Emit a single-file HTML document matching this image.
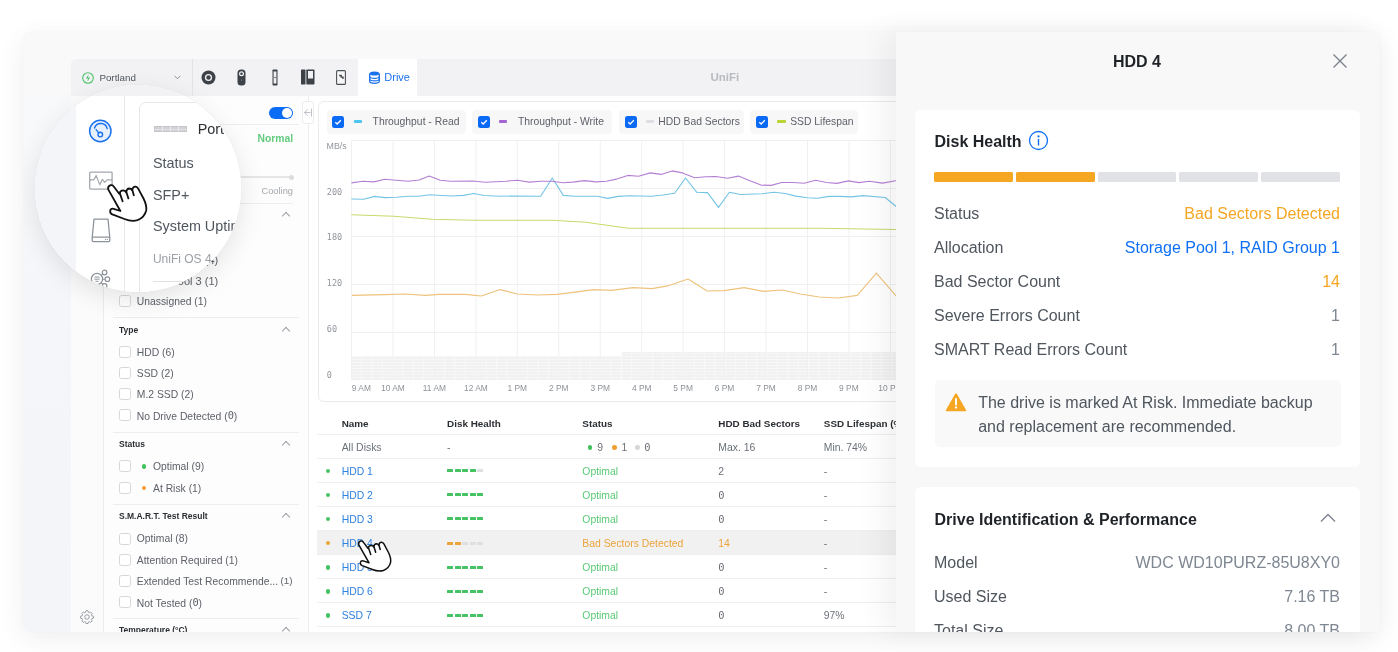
<!DOCTYPE html>
<html><head><meta charset="utf-8">
<style>
*{box-sizing:border-box;margin:0;padding:0}
html,body{width:1398px;height:652px;overflow:hidden;background:#fff}
body{position:relative;font-family:"Liberation Sans",Arial,sans-serif;color:#50565e}
.a{position:absolute}
.card{left:23px;top:32px;width:1357px;height:600px;background:#f9f9fa;border-radius:8px 2px 2px 8px;box-shadow:0 6px 28px rgba(0,0,0,.07),0 0 2px rgba(0,0,0,.03)}
.clipL{left:23px;top:32px;width:873px;height:600px;overflow:hidden;border-radius:8px 0 0 8px}
.in{position:absolute;left:-23px;top:-32px;width:1398px;height:652px}
.band{left:23px;top:96px;width:48px;height:536px;background:linear-gradient(#f8f9fa,#f5f6f9 40%,#f4f5f8)}
.hdr{left:71px;top:59px;width:840px;height:37px;background:#f2f2f4;border-radius:5px 0 0 0}
.app{left:71px;top:96px;width:840px;height:536px;background:#fff}
.nav{left:71px;top:96px;width:33px;height:536px;background:#fbfbfc;border-right:1px solid #ececee}
.filt{left:104px;top:96px;width:205px;height:536px;background:#fdfdfd;border-right:1px solid #eeeeef}
.txt{white-space:nowrap;line-height:1}
.cb{position:absolute;width:12px;height:12px;border:1px solid #d5d7da;border-radius:2.5px;background:#fff}
.fl{position:absolute;font-size:10.35px;color:#5d6168;white-space:nowrap;line-height:12px}
.fh{position:absolute;font-size:8.5px;font-weight:bold;color:#2b2f33;white-space:nowrap;line-height:10px}
.hl{position:absolute;height:1px;background:#ededee}
.chev{position:absolute;width:6px;height:6px;border-left:1.2px solid #9a9ea4;border-top:1.2px solid #9a9ea4;transform:rotate(45deg)}
.panel{left:896px;top:32px;width:483px;height:600px;background:#f8f8f8;box-shadow:-12px 0 28px rgba(0,0,0,.06);overflow:hidden}
.pin{position:absolute;left:-896px;top:-32px;width:1398px;height:652px}
.pc{position:absolute;background:#fff;border-radius:6px}
.row{position:absolute;left:934px;width:406px;height:20px;font-size:16px;line-height:20px;color:#50565e;white-space:nowrap}
.row .v{position:absolute;right:0;top:0}
.z{font-family:"DejaVu Sans Mono",monospace;font-size:1em;position:relative;top:-1px}
.tb{position:absolute;font-size:10.4px;line-height:12px;white-space:nowrap}
</style></head><body>
<div class="a card"></div>
<div class="a clipL"><div class="in">
  <div class="a band"></div>
  <div class="a app"></div>
  <div class="a nav"></div>
  <div class="a filt"></div>
  <div class="a" style="left:269.3px;top:106.5px;width:24px;height:12px;border-radius:6px;background:#0b6cf5"></div>
  <div class="a" style="left:282.3px;top:107.5px;width:10px;height:10px;border-radius:50%;background:#fff"></div>
  <div class="hl" style="left:113px;width:186px;top:124.0px"></div>
  <div class="txt a" style="left:200px;width:93px;text-align:right;top:134.4px;font-size:10.3px;font-weight:bold;color:#62cb7e">Normal</div>
  <div class="a" style="left:160px;top:176.3px;width:131px;height:1.6px;background:#e6e6e8;border-radius:1px"></div>
  <div class="a" style="left:288.5px;top:174.5px;width:5px;height:5px;border-radius:50%;background:#dcdcde"></div>
  <div class="txt a" style="left:200px;width:93px;text-align:right;top:187.3px;font-size:9.3px;color:#a3a7ac">Cooling</div>
  <div class="hl" style="left:113px;width:180px;top:203.0px"></div>
  <div class="fh" style="left:119px;top:209.8px">Storage Pool</div>
  <div class="chev" style="left:283px;top:213.0px"></div>
  <div class="cb" style="left:119px;top:232.3px"></div>
  <div class="fl" style="left:170.5px;top:232.5px;font-size:11px">Pool 1 (4)</div>
  <div class="cb" style="left:119px;top:253.3px"></div>
  <div class="fl" style="left:170.5px;top:253.5px;font-size:11px">Pool 2 (4)</div>
  <div class="cb" style="left:119px;top:274.3px"></div>
  <div class="fl" style="left:170.5px;top:274.5px;font-size:11px">Pool 3 (1)</div>
  <div class="cb" style="left:119px;top:295.3px"></div>
  <div class="fl" style="left:136.8px;top:295.8px">Unassigned (1)</div>
  <div class="hl" style="left:113px;width:186px;top:317.3px"></div>
  <div class="fh" style="left:119px;top:324.6px">Type</div>
  <div class="chev" style="left:283px;top:327.8px"></div>
  <div class="cb" style="left:119px;top:346.4px"></div>
  <div class="fl" style="left:136.8px;top:346.9px">HDD (6)</div>
  <div class="cb" style="left:119px;top:367.2px"></div>
  <div class="fl" style="left:136.8px;top:367.7px">SSD (2)</div>
  <div class="cb" style="left:119px;top:388.1px"></div>
  <div class="fl" style="left:136.8px;top:388.6px">M.2 SSD (2)</div>
  <div class="cb" style="left:119px;top:409.0px"></div>
  <div class="fl" style="left:136.8px;top:409.5px">No Drive Detected (<span class="z">0</span>)</div>
  <div class="hl" style="left:113px;width:186px;top:431.6px"></div>
  <div class="fh" style="left:119px;top:438.6px">Status</div>
  <div class="chev" style="left:283px;top:441.8px"></div>
  <div class="cb" style="left:119px;top:460.4px"></div>
  <div class="a" style="left:141.7px;top:464.1px;width:4.6px;height:4.6px;border-radius:50%;background:#3fc15c"></div>
  <div class="fl" style="left:153.0px;top:460.9px">Optimal (9)</div>
  <div class="cb" style="left:119px;top:482.0px"></div>
  <div class="a" style="left:141.7px;top:485.7px;width:4.6px;height:4.6px;border-radius:50%;background:#f0a030"></div>
  <div class="fl" style="left:153.0px;top:482.5px">At Risk (1)</div>
  <div class="hl" style="left:113px;width:186px;top:504.0px"></div>
  <div class="fh" style="left:119px;top:510.8px">S.M.A.R.T. Test Result</div>
  <div class="chev" style="left:283px;top:514.0px"></div>
  <div class="cb" style="left:119px;top:532.9px"></div>
  <div class="fl" style="left:136.8px;top:533.4px">Optimal (8)</div>
  <div class="cb" style="left:119px;top:554.0px"></div>
  <div class="fl" style="left:136.8px;top:554.5px">Attention Required (1)</div>
  <div class="cb" style="left:119px;top:575.0px"></div>
  <div class="fl" style="left:136.8px;top:575.5px">Extended Test Recommende...</div>
  <div class="fl" style="left:200px;width:92.6px;text-align:right;top:575px;font-size:9.8px">(1)</div>
  <div class="cb" style="left:119px;top:596.3px"></div>
  <div class="fl" style="left:136.8px;top:596.8px">Not Tested (<span class="z">0</span>)</div>
  <div class="hl" style="left:113px;width:186px;top:618.4px"></div>
  <div class="fh" style="left:119px;top:625.1px">Temperature (°C)</div>
  <div class="chev" style="left:283px;top:628.3px"></div>
  <div class="a" style="left:302.2px;top:100.8px;width:12px;height:23px;border:1px solid #ececee;border-radius:3px;background:#fff"></div>
  <svg class="a" style="left:303.4px;top:107.6px" width="10" height="9" viewBox="0 0 10 9"><path d="M4.6 1.3L1.5 4.5L4.6 7.7M1.5 4.5H7.6M8.5 0.5V8.5" stroke="#aeb2b7" stroke-width="0.8" fill="none"/></svg>
  <svg class="a" style="left:78.5px;top:608.5px" width="16" height="16" viewBox="0 0 24 24"><path d="M12 2.5l1.6 .3.5 2.2 1.5.7 1.9-1.2 2.3 2.3-1.2 1.9.7 1.5 2.2.5v3.2l-2.2.5-.7 1.5 1.2 1.9-2.3 2.3-1.9-1.2-1.5.7-.5 2.2h-3.2l-.5-2.2-1.5-.7-1.9 1.2-2.3-2.3 1.2-1.9-.7-1.5-2.2-.5v-3.2l2.2-.5.7-1.5-1.2-1.9 2.3-2.3 1.9 1.2 1.5-.7.5-2.2z" fill="none" stroke="#8a8f96" stroke-width="1.3" stroke-linejoin="round"/><circle cx="12" cy="12" r="3.4" fill="none" stroke="#8a8f96" stroke-width="1.3"/></svg>
<svg class="a" style="left:0;top:0" width="1398" height="652" viewBox="0 0 1398 652" font-family="Liberation Sans, Arial, sans-serif">
<defs><pattern id="bp" x="351.5" y="0" width="10.4" height="3" patternUnits="userSpaceOnUse"><rect x="0" y="0" width="9.3" height="2.3" fill="#f1f1f2"/><rect x="0" y="2.3" width="9.3" height="0.7" fill="#f7f7f8"/></pattern></defs>
<rect x="318.5" y="101.5" width="640" height="300" rx="5.5" fill="#fff" stroke="#ebebed"/>
<rect x="351.5" y="356" width="270" height="24" fill="#f8f8f9"/><rect x="351.5" y="356" width="270" height="24" fill="url(#bp)"/>
<rect x="621.5" y="352" width="290" height="28" fill="#f8f8f9"/><rect x="621.5" y="352" width="290" height="28" fill="url(#bp)"/>
<line x1="351.5" x2="910" y1="140.5" y2="140.5" stroke="#f0f0f1"/>
<line x1="351.5" x2="910" y1="188.5" y2="188.5" stroke="#f0f0f1"/>
<line x1="351.5" x2="910" y1="236.5" y2="236.5" stroke="#f0f0f1"/>
<line x1="351.5" x2="910" y1="284.5" y2="284.5" stroke="#f0f0f1"/>
<line x1="351.5" x2="910" y1="332.5" y2="332.5" stroke="#f0f0f1"/>
<line x1="351.5" x2="351.5" y1="140" y2="380" stroke="#f0f0f1"/>
<line x1="392.9" x2="392.9" y1="140" y2="380" stroke="#f0f0f1"/>
<line x1="434.4" x2="434.4" y1="140" y2="380" stroke="#f0f0f1"/>
<line x1="475.9" x2="475.9" y1="140" y2="380" stroke="#f0f0f1"/>
<line x1="517.3" x2="517.3" y1="140" y2="380" stroke="#f0f0f1"/>
<line x1="558.8" x2="558.8" y1="140" y2="380" stroke="#f0f0f1"/>
<line x1="600.2" x2="600.2" y1="140" y2="380" stroke="#f0f0f1"/>
<line x1="641.7" x2="641.7" y1="140" y2="380" stroke="#f0f0f1"/>
<line x1="683.1" x2="683.1" y1="140" y2="380" stroke="#f0f0f1"/>
<line x1="724.5" x2="724.5" y1="140" y2="380" stroke="#f0f0f1"/>
<line x1="766.0" x2="766.0" y1="140" y2="380" stroke="#f0f0f1"/>
<line x1="807.5" x2="807.5" y1="140" y2="380" stroke="#f0f0f1"/>
<line x1="848.9" x2="848.9" y1="140" y2="380" stroke="#f0f0f1"/>
<line x1="890.4" x2="890.4" y1="140" y2="380" stroke="#f0f0f1"/>
<polyline fill="none" stroke="#cbd86c" stroke-width="1.1" stroke-linejoin="round" points="351.4,214.7 393.9,216.3 432.5,219.2 473.8,220.3 552.3,220.3 585.8,222.2 605.1,225.0 628.3,228.2 820.0,228.2 895.6,229.5 905.0,229.6"/>
<polyline fill="none" stroke="#eec27c" stroke-width="1.1" stroke-linejoin="round" points="352.0,295.4 385.0,294.6 405.1,294.0 425.1,295.4 439.1,294.4 465.2,294.4 481.2,296.0 500.2,289.6 517.2,294.0 537.3,295.0 557.3,294.4 573.3,292.4 593.3,289.6 611.4,290.4 633.0,287.6 652.1,288.6 669.1,285.6 688.1,279.0 707.1,291.0 724.2,290.6 744.2,287.6 763.2,291.4 782.2,290.0 800.3,294.0 819.3,297.0 838.3,298.0 857.3,295.4 876.4,273.2 895.6,295.5 905.0,304.0"/>
<polyline fill="none" stroke="#74c4e4" stroke-width="1.1" stroke-linejoin="round" points="351.4,199.0 363.7,199.3 374.6,196.4 384.9,197.6 396.5,197.3 408.1,196.3 418.4,196.3 430.0,194.8 441.6,195.5 451.9,196.0 463.4,195.4 473.8,193.5 484.0,195.5 499.5,196.2 515.0,196.0 540.7,196.3 552.3,178.0 563.3,195.4 574.2,196.3 597.4,196.3 607.7,198.4 618.0,196.4 629.6,195.7 651.5,196.3 663.0,195.0 674.6,193.2 685.6,178.0 696.6,192.2 707.5,192.6 718.5,207.4 729.4,192.2 740.4,194.5 762.2,193.7 773.8,192.2 785.4,193.5 795.7,196.1 807.3,197.7 817.6,198.2 829.2,196.4 839.5,196.4 851.3,196.9 863.0,195.6 885.2,197.5 895.6,206.0 905.0,214.0"/>
<polyline fill="none" stroke="#b47fd3" stroke-width="1.1" stroke-linejoin="round" points="351.4,182.9 363.0,181.2 374.0,181.9 384.9,179.3 396.5,180.3 408.1,181.2 419.0,180.0 429.3,176.1 440.3,180.2 450.6,181.2 472.5,181.0 485.3,182.3 506.0,181.2 517.5,180.2 529.2,182.1 540.7,181.2 552.3,181.2 562.6,182.8 572.9,182.1 584.5,180.6 596.1,181.9 606.4,181.2 616.7,179.1 627.7,175.4 638.6,176.2 650.2,172.9 661.1,174.4 672.1,170.9 682.4,172.9 694.7,177.8 705.6,176.7 715.9,176.5 727.5,178.3 738.4,176.1 749.4,180.6 761.0,185.1 771.3,185.4 781.6,182.5 793.2,182.5 804.1,183.2 815.7,180.2 826.6,182.5 836.9,183.4 848.5,180.9 859.0,182.6 869.5,181.3 882.6,183.1 895.6,180.8 905.0,181.0"/>
<text x="326.6" y="148.8" font-size="8.8" fill="#92969c">MB/s</text>
<text x="326.8" y="194.8" font-size="8.5" font-family="DejaVu Sans Mono, monospace" fill="#92969c">200</text>
<text x="326.8" y="240.4" font-size="8.5" font-family="DejaVu Sans Mono, monospace" fill="#92969c">180</text>
<text x="326.8" y="286.4" font-size="8.5" font-family="DejaVu Sans Mono, monospace" fill="#92969c">120</text>
<text x="326.8" y="332.1" font-size="8.5" font-family="DejaVu Sans Mono, monospace" fill="#92969c">60</text>
<text x="326.8" y="377.8" font-size="8.5" font-family="DejaVu Sans Mono, monospace" fill="#92969c">0</text>
<text x="351.8" y="391" font-size="8.4" fill="#8e9298">9 AM</text>
<text x="392.9" y="391" font-size="8.4" fill="#8e9298" text-anchor="middle">10 AM</text>
<text x="434.4" y="391" font-size="8.4" fill="#8e9298" text-anchor="middle">11 AM</text>
<text x="475.9" y="391" font-size="8.4" fill="#8e9298" text-anchor="middle">12 AM</text>
<text x="517.3" y="391" font-size="8.4" fill="#8e9298" text-anchor="middle">1 PM</text>
<text x="558.8" y="391" font-size="8.4" fill="#8e9298" text-anchor="middle">2 PM</text>
<text x="600.2" y="391" font-size="8.4" fill="#8e9298" text-anchor="middle">3 PM</text>
<text x="641.7" y="391" font-size="8.4" fill="#8e9298" text-anchor="middle">4 PM</text>
<text x="683.1" y="391" font-size="8.4" fill="#8e9298" text-anchor="middle">5 PM</text>
<text x="724.5" y="391" font-size="8.4" fill="#8e9298" text-anchor="middle">6 PM</text>
<text x="766.0" y="391" font-size="8.4" fill="#8e9298" text-anchor="middle">7 PM</text>
<text x="807.5" y="391" font-size="8.4" fill="#8e9298" text-anchor="middle">8 PM</text>
<text x="848.9" y="391" font-size="8.4" fill="#8e9298" text-anchor="middle">9 PM</text>
<text x="890.4" y="391" font-size="8.4" fill="#8e9298" text-anchor="middle">10 PM</text>
</svg>
  <div class="a" style="left:326.7px;top:109.5px;width:139.0px;height:24px;background:#f7f7f8;border-radius:4px"></div>
  <div class="a" style="left:332.4px;top:115.6px;width:12px;height:12px;background:#0b6af5;border-radius:2.5px"></div>
  <svg class="a" style="left:332.4px;top:115.6px" width="12" height="12" viewBox="0 0 12 12"><path d="M3.3 6.2L5.2 8L8.8 4.3" stroke="#fff" stroke-width="1.3" fill="none"/></svg>
  <div class="a" style="left:353.6px;top:120.3px;width:8.6px;height:2.4px;background:#4cc5ef;border-radius:1px"></div>
  <div class="txt a" style="left:372.6px;top:117.1px;font-size:10.35px;color:#5d6168">Throughput - Read</div>
  <div class="a" style="left:471.8px;top:109.5px;width:140.6px;height:24px;background:#f7f7f8;border-radius:4px"></div>
  <div class="a" style="left:477.5px;top:115.6px;width:12px;height:12px;background:#0b6af5;border-radius:2.5px"></div>
  <svg class="a" style="left:477.5px;top:115.6px" width="12" height="12" viewBox="0 0 12 12"><path d="M3.3 6.2L5.2 8L8.8 4.3" stroke="#fff" stroke-width="1.3" fill="none"/></svg>
  <div class="a" style="left:498.7px;top:120.3px;width:8.6px;height:2.4px;background:#a564d3;border-radius:1px"></div>
  <div class="txt a" style="left:517.9px;top:117.1px;font-size:10.35px;color:#5d6168">Throughput - Write</div>
  <div class="a" style="left:619.0px;top:109.5px;width:125.2px;height:24px;background:#f7f7f8;border-radius:4px"></div>
  <div class="a" style="left:624.7px;top:115.6px;width:12px;height:12px;background:#0b6af5;border-radius:2.5px"></div>
  <svg class="a" style="left:624.7px;top:115.6px" width="12" height="12" viewBox="0 0 12 12"><path d="M3.3 6.2L5.2 8L8.8 4.3" stroke="#fff" stroke-width="1.3" fill="none"/></svg>
  <div class="a" style="left:645.9px;top:120.3px;width:8.6px;height:2.4px;background:#dedfe2;border-radius:1px"></div>
  <div class="txt a" style="left:658.3px;top:117.1px;font-size:10.35px;color:#5d6168">HDD Bad Sectors</div>
  <div class="a" style="left:750.4px;top:109.5px;width:107.3px;height:24px;background:#f7f7f8;border-radius:4px"></div>
  <div class="a" style="left:756.1px;top:115.6px;width:12px;height:12px;background:#0b6af5;border-radius:2.5px"></div>
  <svg class="a" style="left:756.1px;top:115.6px" width="12" height="12" viewBox="0 0 12 12"><path d="M3.3 6.2L5.2 8L8.8 4.3" stroke="#fff" stroke-width="1.3" fill="none"/></svg>
  <div class="a" style="left:777.3px;top:120.3px;width:8.6px;height:2.4px;background:#b9d435;border-radius:1px"></div>
  <div class="txt a" style="left:790.2px;top:117.1px;font-size:10.35px;color:#5d6168">SSD Lifespan</div>
  <div class="a" style="left:317.4px;top:531px;width:600px;height:23px;background:#f1f1f2"></div>
  <div class="hl" style="left:317.4px;width:600px;top:434px;background:#efeff0"></div>
  <div class="hl" style="left:317.4px;width:600px;top:458px;background:#efeff0"></div>
  <div class="hl" style="left:317.4px;width:600px;top:482px;background:#efeff0"></div>
  <div class="hl" style="left:317.4px;width:600px;top:506px;background:#efeff0"></div>
  <div class="hl" style="left:317.4px;width:600px;top:530px;background:#efeff0"></div>
  <div class="hl" style="left:317.4px;width:600px;top:554px;background:#efeff0"></div>
  <div class="hl" style="left:317.4px;width:600px;top:578px;background:#efeff0"></div>
  <div class="hl" style="left:317.4px;width:600px;top:602px;background:#efeff0"></div>
  <div class="hl" style="left:317.4px;width:600px;top:626px;background:#efeff0"></div>
  <div class="tb" style="left:341.7px;top:417.7px;color:#2b2f33;font-weight:bold;font-size:9.9px">Name</div>
  <div class="tb" style="left:447.1px;top:417.7px;color:#2b2f33;font-weight:bold;font-size:9.9px">Disk Health</div>
  <div class="tb" style="left:582.3px;top:417.7px;color:#2b2f33;font-weight:bold;font-size:9.9px">Status</div>
  <div class="tb" style="left:718.3px;top:417.7px;color:#2b2f33;font-weight:bold;font-size:9.9px">HDD Bad Sectors</div>
  <div class="tb" style="left:823.8px;top:417.7px;color:#2b2f33;font-weight:bold;font-size:9.9px">SSD Lifespan (%)</div>
  <div class="tb" style="left:341.7px;top:442.0px;color:#6b7078">All Disks</div>
  <div class="tb" style="left:447.1px;top:442.0px;color:#6b7078">-</div>
  <div class="a" style="left:587.7px;top:445.0px;width:4.6px;height:4.6px;border-radius:50%;background:#3fc15c"></div>
  <div class="tb" style="left:597.2px;top:442.0px;color:#6b7078">9</div>
  <div class="a" style="left:612.1px;top:445.0px;width:4.6px;height:4.6px;border-radius:50%;background:#f0a030"></div>
  <div class="tb" style="left:621.6px;top:442.0px;color:#6b7078">1</div>
  <div class="a" style="left:635.0px;top:445.0px;width:4.6px;height:4.6px;border-radius:50%;background:#d6d7d9"></div>
  <div class="tb" style="left:644.3px;top:442.0px;color:#6b7078"><span class="z">0</span></div>
  <div class="tb" style="left:718.3px;top:442.0px;color:#6b7078">Max. 16</div>
  <div class="tb" style="left:823.8px;top:442.0px;color:#6b7078">Min. 74%</div>
  <div class="a" style="left:325.5px;top:468.6px;width:4.6px;height:4.6px;border-radius:50%;background:#45c363"></div>
  <div class="tb" style="left:341.7px;top:465.6px;color:#2f81de">HDD 1</div>
  <div class="a" style="left:447.0px;top:469px;width:6px;height:3px;border-radius:.5px;background:#45c363"></div>
  <div class="a" style="left:454.5px;top:469px;width:6px;height:3px;border-radius:.5px;background:#45c363"></div>
  <div class="a" style="left:462.0px;top:469px;width:6px;height:3px;border-radius:.5px;background:#45c363"></div>
  <div class="a" style="left:469.5px;top:469px;width:6px;height:3px;border-radius:.5px;background:#45c363"></div>
  <div class="a" style="left:477.0px;top:469px;width:6px;height:3px;border-radius:.5px;background:#dedfe1"></div>
  <div class="tb" style="left:582.3px;top:465.6px;color:#5cc877">Optimal</div>
  <div class="tb" style="left:718.3px;top:465.6px;color:#6b7078">2</div>
  <div class="tb" style="left:823.8px;top:465.6px;color:#6b7078">-</div>
  <div class="a" style="left:325.5px;top:492.7px;width:4.6px;height:4.6px;border-radius:50%;background:#45c363"></div>
  <div class="tb" style="left:341.7px;top:489.7px;color:#2f81de">HDD 2</div>
  <div class="a" style="left:447.0px;top:493px;width:6px;height:3px;border-radius:.5px;background:#45c363"></div>
  <div class="a" style="left:454.5px;top:493px;width:6px;height:3px;border-radius:.5px;background:#45c363"></div>
  <div class="a" style="left:462.0px;top:493px;width:6px;height:3px;border-radius:.5px;background:#45c363"></div>
  <div class="a" style="left:469.5px;top:493px;width:6px;height:3px;border-radius:.5px;background:#45c363"></div>
  <div class="a" style="left:477.0px;top:493px;width:6px;height:3px;border-radius:.5px;background:#45c363"></div>
  <div class="tb" style="left:582.3px;top:489.7px;color:#5cc877">Optimal</div>
  <div class="tb" style="left:718.3px;top:489.7px;color:#6b7078"><span class="z">0</span></div>
  <div class="tb" style="left:823.8px;top:489.7px;color:#6b7078">-</div>
  <div class="a" style="left:325.5px;top:516.8px;width:4.6px;height:4.6px;border-radius:50%;background:#45c363"></div>
  <div class="tb" style="left:341.7px;top:513.8px;color:#2f81de">HDD 3</div>
  <div class="a" style="left:447.0px;top:517px;width:6px;height:3px;border-radius:.5px;background:#45c363"></div>
  <div class="a" style="left:454.5px;top:517px;width:6px;height:3px;border-radius:.5px;background:#45c363"></div>
  <div class="a" style="left:462.0px;top:517px;width:6px;height:3px;border-radius:.5px;background:#45c363"></div>
  <div class="a" style="left:469.5px;top:517px;width:6px;height:3px;border-radius:.5px;background:#45c363"></div>
  <div class="a" style="left:477.0px;top:517px;width:6px;height:3px;border-radius:.5px;background:#45c363"></div>
  <div class="tb" style="left:582.3px;top:513.8px;color:#5cc877">Optimal</div>
  <div class="tb" style="left:718.3px;top:513.8px;color:#6b7078"><span class="z">0</span></div>
  <div class="tb" style="left:823.8px;top:513.8px;color:#6b7078">-</div>
  <div class="a" style="left:325.5px;top:540.9px;width:4.6px;height:4.6px;border-radius:50%;background:#eba43c"></div>
  <div class="tb" style="left:341.7px;top:537.9px;color:#2f81de">HDD 4</div>
  <div class="a" style="left:447.0px;top:542px;width:6px;height:3px;border-radius:.5px;background:#eba43c"></div>
  <div class="a" style="left:454.5px;top:542px;width:6px;height:3px;border-radius:.5px;background:#eba43c"></div>
  <div class="a" style="left:462.0px;top:542px;width:6px;height:3px;border-radius:.5px;background:#dedfe1"></div>
  <div class="a" style="left:469.5px;top:542px;width:6px;height:3px;border-radius:.5px;background:#dedfe1"></div>
  <div class="a" style="left:477.0px;top:542px;width:6px;height:3px;border-radius:.5px;background:#dedfe1"></div>
  <div class="tb" style="left:582.3px;top:537.9px;color:#eba43c">Bad Sectors Detected</div>
  <div class="tb" style="left:718.3px;top:537.9px;color:#eba43c">14</div>
  <div class="tb" style="left:823.8px;top:537.9px;color:#6b7078">-</div>
  <div class="a" style="left:325.5px;top:565.0px;width:4.6px;height:4.6px;border-radius:50%;background:#45c363"></div>
  <div class="tb" style="left:341.7px;top:562.0px;color:#2f81de">HDD 5</div>
  <div class="a" style="left:447.0px;top:566px;width:6px;height:3px;border-radius:.5px;background:#45c363"></div>
  <div class="a" style="left:454.5px;top:566px;width:6px;height:3px;border-radius:.5px;background:#45c363"></div>
  <div class="a" style="left:462.0px;top:566px;width:6px;height:3px;border-radius:.5px;background:#45c363"></div>
  <div class="a" style="left:469.5px;top:566px;width:6px;height:3px;border-radius:.5px;background:#45c363"></div>
  <div class="a" style="left:477.0px;top:566px;width:6px;height:3px;border-radius:.5px;background:#45c363"></div>
  <div class="tb" style="left:582.3px;top:562.0px;color:#5cc877">Optimal</div>
  <div class="tb" style="left:718.3px;top:562.0px;color:#6b7078"><span class="z">0</span></div>
  <div class="tb" style="left:823.8px;top:562.0px;color:#6b7078">-</div>
  <div class="a" style="left:325.5px;top:589.1px;width:4.6px;height:4.6px;border-radius:50%;background:#45c363"></div>
  <div class="tb" style="left:341.7px;top:586.1px;color:#2f81de">HDD 6</div>
  <div class="a" style="left:447.0px;top:590px;width:6px;height:3px;border-radius:.5px;background:#45c363"></div>
  <div class="a" style="left:454.5px;top:590px;width:6px;height:3px;border-radius:.5px;background:#45c363"></div>
  <div class="a" style="left:462.0px;top:590px;width:6px;height:3px;border-radius:.5px;background:#45c363"></div>
  <div class="a" style="left:469.5px;top:590px;width:6px;height:3px;border-radius:.5px;background:#45c363"></div>
  <div class="a" style="left:477.0px;top:590px;width:6px;height:3px;border-radius:.5px;background:#45c363"></div>
  <div class="tb" style="left:582.3px;top:586.1px;color:#5cc877">Optimal</div>
  <div class="tb" style="left:718.3px;top:586.1px;color:#6b7078"><span class="z">0</span></div>
  <div class="tb" style="left:823.8px;top:586.1px;color:#6b7078">-</div>
  <div class="a" style="left:325.5px;top:613.2px;width:4.6px;height:4.6px;border-radius:50%;background:#45c363"></div>
  <div class="tb" style="left:341.7px;top:610.2px;color:#2f81de">SSD 7</div>
  <div class="a" style="left:447.0px;top:614px;width:6px;height:3px;border-radius:.5px;background:#45c363"></div>
  <div class="a" style="left:454.5px;top:614px;width:6px;height:3px;border-radius:.5px;background:#45c363"></div>
  <div class="a" style="left:462.0px;top:614px;width:6px;height:3px;border-radius:.5px;background:#45c363"></div>
  <div class="a" style="left:469.5px;top:614px;width:6px;height:3px;border-radius:.5px;background:#45c363"></div>
  <div class="a" style="left:477.0px;top:614px;width:6px;height:3px;border-radius:.5px;background:#45c363"></div>
  <div class="tb" style="left:582.3px;top:610.2px;color:#5cc877">Optimal</div>
  <div class="tb" style="left:718.3px;top:610.2px;color:#6b7078"><span class="z">0</span></div>
  <div class="tb" style="left:823.8px;top:610.2px;color:#6b7078">97%</div>
  <div class="a hdr"></div>
<svg class="a" style="left:0;top:0;overflow:visible" width="1" height="1"><g transform="translate(351.80 532.50) scale(0.840)"><path d="M13.9,11.8 L19.2,18.8 Q20.5,15.2 23.2,15.4 Q25.2,15.6 26.0,17.2 Q26.8,13.6 29.2,13.5 Q31.2,13.5 32.0,15.0 Q33.2,11.2 35.6,11.6 Q37.2,11.9 38.2,13.6 L43.5,23.5 Q47,30.5 46.2,35.5 Q44.5,42.5 37.5,45.2 Q31.5,46.8 24.5,44.0 L12.3,39.4 Q9.8,38.2 10.2,35.8 Q10.8,33.2 13.6,33.8 L20.4,36.0 L8.2,14.4 Q7.5,11.5 10.5,10.2 Q12.8,9.6 13.9,11.8 Z" fill="#fff" stroke="#111" stroke-width="1.80" stroke-linejoin="round"/><path d="M19.6,17.6 L22.6,26.3 M26.2,16.4 L28.4,23.4 M32.2,14.6 L33.8,20.3" fill="none" stroke="#111" stroke-width="1.80" stroke-linecap="round"/></g></svg>
<div class="a" style="left:35px;top:85.4px;width:206.4px;height:206.4px;border-radius:50%;overflow:hidden;box-shadow:0 8px 26px rgba(0,0,0,.10),0 0 1.5px rgba(0,0,0,.08)"><div class="a" style="left:-35px;top:-85.4px;width:400px;height:400px">
  <div class="a" style="left:30px;top:80px;width:250px;height:220px;background:#fff"></div>
  <div class="a" style="left:30px;top:80px;width:46px;height:220px;background:#f4f5f8"></div>
  <div class="a" style="left:30px;top:80px;width:250px;height:15.6px;background:#f2f2f4"></div>
  <div class="a" style="left:124px;top:95.6px;width:1px;height:210px;background:#e8e8ea"></div>
  <div class="a" style="left:139.3px;top:102.4px;width:140px;height:210px;border:1px solid #e6e6e8;border-radius:7px;background:#fff"></div>
  <svg class="a" style="left:88px;top:119px" width="25" height="25" viewBox="0 0 25 25"><circle cx="12.3" cy="12" r="10.7" fill="#e8f0fd" stroke="#1a72ec" stroke-width="1.5"/><path d="M6.5 9A6.6 6.6 0 0 1 19.2 9.6" fill="none" stroke="#1a72ec" stroke-width="1.4" stroke-linecap="round"/><circle cx="12.3" cy="15.6" r="2.3" fill="none" stroke="#1a72ec" stroke-width="1.4"/><path d="M10.7 13.9L8.1 10.6" stroke="#1a72ec" stroke-width="1.4" stroke-linecap="round"/></svg>
  <svg class="a" style="left:88.5px;top:170.5px" width="25" height="19" viewBox="0 0 25 19"><rect x="0.7" y="1.2" width="22.4" height="16.9" rx="0.8" fill="#fff" stroke="#a3a8ae" stroke-width="1.3"/><path d="M0.7 8.9H4.7L7.2 4.6L10.8 13.8L13.3 8.3L15.7 11.4L18.2 8.9H23.1" fill="none" stroke="#a3a8ae" stroke-width="1.2" stroke-linejoin="round"/></svg>
  <svg class="a" style="left:91px;top:217.5px" width="20" height="25" viewBox="0 0 20 25"><path d="M3 1.2H17L18.8 19.5V22.5Q18.8 23.6 17.7 23.6H2.3Q1.2 23.6 1.2 22.5V19.5Z" fill="#fff" stroke="#8d939a" stroke-width="1.3" stroke-linejoin="round"/><path d="M1.2 19.2H18.8" stroke="#8d939a" stroke-width="1.2"/><circle cx="14.5" cy="21.4" r="0.6" fill="#8d939a"/><circle cx="16.4" cy="21.4" r="0.6" fill="#8d939a"/></svg>
  <svg class="a" style="left:88px;top:266px" width="26" height="26" viewBox="0 0 26 26"><circle cx="9" cy="13" r="5.6" fill="#fff" stroke="#8d939a" stroke-width="1.3"/><path d="M6.4 11.1H11.6M6.4 13.2H11.6M7.4 15.3H10.6" stroke="#8d939a" stroke-width="1"/><path d="M14.6 13.2H17.1M13.2 9.4L15.1 7.9M13.2 16.8L15.1 18.5" stroke="#8d939a" stroke-width="1.1"/><circle cx="16.6" cy="6.5" r="2.3" fill="#fff" stroke="#8d939a" stroke-width="1.2"/><circle cx="19.4" cy="13.2" r="2.3" fill="#fff" stroke="#8d939a" stroke-width="1.2"/><circle cx="16.6" cy="20" r="2.3" fill="#fff" stroke="#8d939a" stroke-width="1.2"/></svg>
  <div class="a" style="left:153.5px;top:125.7px;width:33px;height:6.2px;background:#d2d3d6;border:0.8px solid #c4c5c8"></div>
  <div class="a" style="left:161.5px;top:125.7px;width:0.8px;height:6.2px;background:#e8e8ea"></div>
  <div class="a" style="left:169.8px;top:125.7px;width:0.8px;height:6.2px;background:#e8e8ea"></div>
  <div class="a" style="left:178px;top:125.7px;width:0.8px;height:6.2px;background:#e8e8ea"></div>
  <div class="a" style="left:153.5px;top:128.6px;width:33px;height:0.7px;background:#e2e2e4"></div>
  <div class="txt a" style="left:197.7px;top:122.3px;font-size:14.4px;color:#2b2f33">Port</div>
  <div class="txt a" style="left:152.9px;top:155.8px;font-size:14.4px;color:#50565e">Status</div>
  <div class="txt a" style="left:152.9px;top:187.6px;font-size:14.4px;color:#50565e">SFP+</div>
  <div class="txt a" style="left:152.9px;top:218.8px;font-size:14.4px;color:#50565e">System Uptime</div>
  <div class="txt a" style="left:152.9px;top:253.1px;font-size:12px;color:#9ba0a6">UniFi OS 4</div>
  <div class="a" style="left:152.7px;top:281px;width:40px;height:1px;background:#e2e2e4"></div>
<svg class="a" style="left:0;top:0;overflow:visible" width="1" height="1"><g transform="translate(100.00 175.00) scale(1.000)"><path d="M13.9,11.8 L19.2,18.8 Q20.5,15.2 23.2,15.4 Q25.2,15.6 26.0,17.2 Q26.8,13.6 29.2,13.5 Q31.2,13.5 32.0,15.0 Q33.2,11.2 35.6,11.6 Q37.2,11.9 38.2,13.6 L43.5,23.5 Q47,30.5 46.2,35.5 Q44.5,42.5 37.5,45.2 Q31.5,46.8 24.5,44.0 L12.3,39.4 Q9.8,38.2 10.2,35.8 Q10.8,33.2 13.6,33.8 L20.4,36.0 L8.2,14.4 Q7.5,11.5 10.5,10.2 Q12.8,9.6 13.9,11.8 Z" fill="#fff" stroke="#111" stroke-width="1.80" stroke-linejoin="round"/><path d="M19.6,17.6 L22.6,26.3 M26.2,16.4 L28.4,23.4 M32.2,14.6 L33.8,20.3" fill="none" stroke="#111" stroke-width="1.80" stroke-linecap="round"/></g></svg>
</div></div>
  <svg class="a" style="left:81.5px;top:71.5px" width="12" height="12" viewBox="0 0 12 12"><circle cx="6" cy="6" r="5.3" stroke="#4cc36a" stroke-width="1.1" fill="none"/><path d="M6.6 2.6L3.9 6.6H6L5.4 9.4L8.1 5.4H6Z" fill="#4cc36a"/></svg>
  <div class="txt a" style="left:99.4px;top:73.1px;font-size:9.8px;color:#50565e">Portland</div>
  <svg class="a" style="left:174px;top:75px" width="7" height="5" viewBox="0 0 7 5"><path d="M0.6 0.8L3.5 3.8L6.4 0.8" stroke="#8a8f96" stroke-width="1" fill="none"/></svg>
  <div class="a" style="left:191.5px;top:59px;width:1px;height:37px;background:#e2e2e5"></div>
  <svg class="a" style="left:201px;top:70px" width="15" height="15" viewBox="0 0 15 15"><circle cx="7.5" cy="7.5" r="7" fill="#3d4248"/><circle cx="7.5" cy="7.5" r="3.6" fill="#f2f2f4"/><circle cx="7.5" cy="7.5" r="2.2" fill="#3d4248"/></svg>
  <svg class="a" style="left:237px;top:68.5px" width="9" height="17" viewBox="0 0 9 17"><rect x="0.5" y="0.5" width="8" height="16" rx="3.5" fill="#3d4248"/><circle cx="4.5" cy="4.8" r="2.5" fill="#f2f2f4"/><circle cx="4.5" cy="4.8" r="1.3" fill="#3d4248"/><circle cx="4.5" cy="11" r="0.6" fill="#9a9ea4"/></svg>
  <svg class="a" style="left:271.5px;top:68.5px" width="6" height="17" viewBox="0 0 6 17"><rect x="0.5" y="0.5" width="5" height="16" rx="0.8" fill="#3d4248"/><rect x="1.6" y="2.5" width="2.8" height="12" fill="#f2f2f4"/><circle cx="3" cy="8.5" r="0.7" fill="#3d4248"/></svg>
  <svg class="a" style="left:301px;top:69px" width="14" height="16" viewBox="0 0 14 16"><rect x="0" y="0.5" width="4.5" height="15" rx="0.6" fill="#3d4248"/><rect x="5.3" y="0.5" width="8.2" height="15" rx="0.8" fill="#3d4248"/><rect x="7" y="2" width="5" height="7.5" fill="#f2f2f4"/></svg>
  <svg class="a" style="left:335.5px;top:69.5px" width="10" height="15" viewBox="0 0 10 15"><rect x="0.6" y="0.6" width="8.8" height="13.8" rx="1" fill="#f7f7f8" stroke="#4b5056" stroke-width="1.1"/><path d="M3.2 5.5h2v1.6h1.8v2" stroke="#3d4248" stroke-width="1.3" fill="none"/></svg>
  <div class="a" style="left:357.7px;top:59px;width:59.5px;height:37px;background:#fff"></div>
  <svg class="a" style="left:368.5px;top:71px" width="11" height="13" viewBox="0 0 11 13"><ellipse cx="5.5" cy="2.6" rx="4.8" ry="2" fill="#1a72ec"/><path d="M0.7 2.6v7.6c0 1.2 2.1 2.1 4.8 2.1s4.8-.9 4.8-2.1V2.6" fill="none" stroke="#1a72ec" stroke-width="1.3"/><path d="M0.7 5.2c0 1.2 2.1 2.1 4.8 2.1s4.8-.9 4.8-2.1M0.7 7.8c0 1.2 2.1 2.1 4.8 2.1s4.8-.9 4.8-2.1" fill="none" stroke="#1a72ec" stroke-width="1.2"/></svg>
  <div class="txt a" style="left:384.3px;top:72px;font-size:11px;color:#1a72ec">Drive</div>
  <div class="txt a" style="left:710.5px;top:72.1px;font-size:11.5px;font-weight:bold;color:#b8babe">UniFi</div>
</div></div>
<div class="a panel"><div class="pin">

  <div class="txt a" style="left:1113px;top:53.5px;font-size:16px;font-weight:bold;color:#1f2328">HDD 4</div>
  <svg class="a" style="left:1333px;top:54px" width="14" height="14" viewBox="0 0 14 14"><path d="M0.5 0.5L13.5 13.5M13.5 0.5L0.5 13.5" stroke="#7b838c" stroke-width="1.4" fill="none"/></svg>
  <div class="pc" style="left:915px;top:110px;width:445px;height:357px"></div>
  <div class="txt a" style="left:934.5px;top:133.9px;font-size:16px;font-weight:bold;color:#1f2328">Disk Health</div>
  <svg class="a" style="left:1027.6px;top:130px" width="21" height="21" viewBox="0 0 21 21"><circle cx="10.5" cy="10.5" r="9" stroke="#0f70f5" stroke-width="1.3" fill="none"/><circle cx="10.5" cy="6.4" r="1.1" fill="#0f70f5"/><path d="M10.5 9v6.5" stroke="#0f70f5" stroke-width="1.4"/></svg>
  <div class="a" style="left:934px;top:172.3px;width:406px;height:9.5px;display:flex;gap:3px">
    <div style="flex:1;background:#f5a623;border-radius:1.5px"></div><div style="flex:1;background:#f5a623;border-radius:1.5px"></div><div style="flex:1;background:#e1e2e5;border-radius:1.5px"></div><div style="flex:1;background:#e1e2e5;border-radius:1.5px"></div><div style="flex:1;background:#e1e2e5;border-radius:1.5px"></div>
  </div>
  <div class="row" style="top:204.20px"><span>Status</span><span class="v" style="color:#f5a623">Bad Sectors Detected</span></div>
  <div class="row" style="top:238.10px"><span>Allocation</span><span class="v" style="color:#0f70f5">Storage Pool 1, RAID Group 1</span></div>
  <div class="row" style="top:272.00px"><span>Bad Sector Count</span><span class="v" style="color:#f5a623">14</span></div>
  <div class="row" style="top:305.90px"><span>Severe Errors Count</span><span class="v" style="color:#7e8792">1</span></div>
  <div class="row" style="top:339.70px"><span>SMART Read Errors Count</span><span class="v" style="color:#7e8792">1</span></div>
  <div class="a" style="left:934.5px;top:380.4px;width:406px;height:67px;background:#f9f9fa;border-radius:5px"></div>
  <svg class="a" style="left:945px;top:391.5px" width="22" height="20" viewBox="0 0 22 20"><path d="M11 2.2L20.3 18.4H1.7Z" fill="#f5a623" stroke="#f5a623" stroke-width="1.8" stroke-linejoin="round"/><path d="M11 7v5.6" stroke="#fff" stroke-width="2" stroke-linecap="round"/><circle cx="11" cy="15.5" r="1.15" fill="#fff"/></svg>
  <div class="a" style="left:978.2px;top:391.1px;font-size:16px;line-height:24px;color:#50565e;white-space:nowrap">The drive is marked At Risk. Immediate backup<br>and replacement are recommended.</div>
  <div class="pc" style="left:915px;top:487px;width:445px;height:200px"></div>
  <div class="txt a" style="left:934.5px;top:512px;font-size:16px;font-weight:bold;color:#1f2328">Drive Identification &amp; Performance</div>
  <svg class="a" style="left:1320px;top:513px" width="16" height="10" viewBox="0 0 16 10"><path d="M1 8.5L8 1.5L15 8.5" stroke="#7b838c" stroke-width="1.4" fill="none"/></svg>
  <div class="row" style="top:552.85px"><span>Model</span><span class="v" style="color:#7e8792">WDC WD10PURZ-85U8XY0</span></div>
  <div class="row" style="top:586.95px"><span>Used Size</span><span class="v" style="color:#7e8792">7.16 TB</span></div>
  <div class="row" style="top:621.05px"><span>Total Size</span><span class="v" style="color:#7e8792">8.00 TB</span></div>
</div></div>
</body></html>
